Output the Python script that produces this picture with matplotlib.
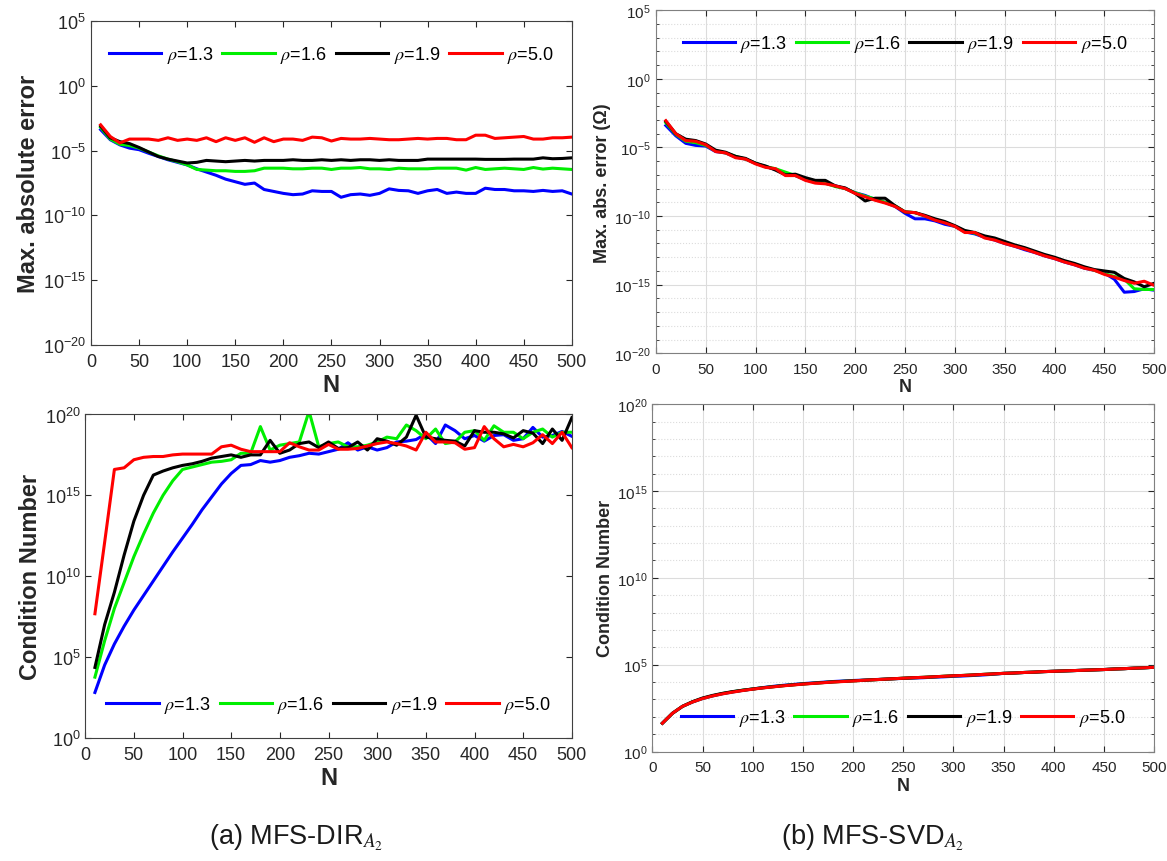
import numpy as np
import matplotlib
matplotlib.use("Agg")
import matplotlib.pyplot as plt

plt.rcParams['font.family'] = ['Liberation Sans', 'DejaVu Sans']
plt.rcParams['mathtext.fontset'] = 'stix'

# DATOS (valores em log10)
N = list(range(10, 501, 10))
rhos = ['1.3', '1.6', '1.9', '5.0']
cores = ['#0000ff', '#00ee00', '#000000', '#ff0000']

# (a) MFS-DIR - erro máximo absoluto
err_dir_13 = [-3.37, -4.15, -4.55, -4.8, -4.92, -5.2, -5.45, -5.7, -5.9, -6.1,
              -6.4, -6.65, -6.9, -7.2, -7.4, -7.6, -7.5, -8.0, -8.15, -8.3,
              -8.4, -8.35, -8.1, -8.15, -8.15, -8.6, -8.4, -8.35, -8.45, -8.3,
              -7.95, -8.07, -8.1, -8.3, -8.1, -8.0, -8.3, -8.2, -8.3, -8.3,
              -7.9, -8.0, -8.0, -8.1, -8.1, -8.15, -8.07, -8.15, -8.1, -8.35]
err_dir_16 = [-3.2, -4.1, -4.5, -4.6, -4.8, -5.1, -5.4, -5.65, -5.85, -6.1,
              -6.45, -6.5, -6.55, -6.55, -6.6, -6.6, -6.55, -6.35, -6.35, -6.35,
              -6.4, -6.4, -6.35, -6.35, -6.45, -6.35, -6.35, -6.3, -6.4, -6.4,
              -6.45, -6.35, -6.4, -6.4, -6.4, -6.35, -6.35, -6.35, -6.5, -6.3,
              -6.45, -6.4, -6.35, -6.4, -6.45, -6.3, -6.42, -6.35, -6.4, -6.45]
err_dir_19 = [-3.1, -4.0, -4.3, -4.45, -4.75, -5.1, -5.45, -5.65, -5.8, -5.95,
              -5.9, -5.75, -5.8, -5.85, -5.8, -5.75, -5.8, -5.75, -5.75, -5.75,
              -5.7, -5.75, -5.75, -5.7, -5.75, -5.7, -5.75, -5.7, -5.7, -5.75,
              -5.7, -5.75, -5.75, -5.75, -5.65, -5.65, -5.65, -5.65, -5.65, -5.65,
              -5.67, -5.67, -5.67, -5.65, -5.65, -5.65, -5.55, -5.62, -5.6, -5.55]
err_dir_50 = [-3.0, -3.9, -4.4, -4.1, -4.1, -4.1, -4.2, -4.0, -4.2, -4.1,
              -4.2, -4.0, -4.3, -4.0, -4.2, -4.0, -4.35, -4.0, -4.3, -4.1,
              -4.1, -4.2, -3.95, -4.0, -4.25, -4.05, -4.1, -4.1, -4.05, -4.1,
              -4.15, -4.15, -4.1, -4.05, -4.1, -4.05, -4.05, -4.15, -4.15, -3.8,
              -3.8, -4.05, -4.0, -3.95, -3.9, -4.1, -4.1, -4.0, -4.0, -3.95]

# (a) MFS-DIR - número de condição
cond_dir_13 = [2.8, 4.5, 5.8, 6.9, 7.9, 8.8, 9.7, 10.6, 11.5, 12.35,
               13.2, 14.1, 14.9, 15.7, 16.35, 16.85, 16.9, 17.15, 17.05, 17.15,
               17.35, 17.45, 17.6, 17.55, 17.7, 17.85, 18.25, 17.8, 18.0, 17.8,
               17.95, 18.3, 18.35, 18.45, 18.8, 18.2, 19.35, 19.0, 18.5, 18.7,
               18.35, 18.7, 18.75, 18.4, 18.5, 19.2, 18.6, 18.7, 18.95, 18.65]
cond_dir_16 = [3.75, 6.0, 8.0, 9.6, 11.2, 12.6, 13.9, 15.0, 15.9, 16.6,
               16.75, 16.9, 17.05, 17.1, 17.2, 17.6, 17.6, 19.25, 17.8, 18.1,
               18.2, 18.3, 20.2, 18.0, 18.2, 18.3, 18.0, 18.0, 18.1, 18.3,
               18.6, 18.5, 19.35, 19.0, 18.5, 19.1, 18.2, 18.3, 18.9, 19.0,
               18.4, 19.3, 18.9, 18.9, 18.5, 18.9, 19.1, 18.6, 18.9, 18.9]
cond_dir_19 = [4.35, 7.0, 9.0, 11.3, 13.4, 15.0, 16.25, 16.5, 16.7, 16.85,
               16.95, 17.1, 17.3, 17.4, 17.5, 17.35, 17.5, 17.5, 18.4, 17.6,
               17.8, 18.2, 18.3, 17.95, 18.3, 17.9, 17.95, 18.3, 17.8, 18.5,
               18.35, 18.1, 18.6, 19.95, 18.6, 18.5, 18.4, 18.35, 18.05, 19.0,
               18.9, 18.9, 18.8, 18.55, 19.0, 18.85, 18.2, 19.1, 18.4, 19.8]
cond_dir_50 = [7.67, 12.1, 16.6, 16.7, 17.2, 17.35, 17.4, 17.4, 17.5, 17.55,
               17.55, 17.55, 17.55, 18.0, 18.1, 17.85, 17.7, 17.7, 17.7, 17.7,
               18.25, 18.0, 17.8, 17.8, 18.15, 17.85, 17.85, 17.9, 18.05, 18.2,
               18.3, 18.2, 18.05, 17.8, 18.9, 18.3, 18.3, 18.25, 17.85, 17.95,
               19.25, 18.5, 18.0, 18.15, 18.0, 18.25, 18.75, 18.2, 18.9, 17.95]

# (b) MFS-SVD - erro máximo absoluto
err_svd_13 = [-3.4, -4.15, -4.7, -4.85, -4.9, -5.3, -5.4, -5.7, -5.85, -6.15,
              -6.4, -6.6, -6.9, -7.05, -7.35, -7.55, -7.6, -7.8, -8.0, -8.3,
              -8.5, -8.8, -9.0, -9.3, -9.8, -10.2, -10.2, -10.35, -10.6, -10.75,
              -11.15, -11.3, -11.55, -11.75, -12.0, -12.2, -12.45, -12.65, -12.9, -13.1,
              -13.35, -13.55, -13.8, -13.95, -14.15, -14.6, -15.55, -15.5, -15.3, -15.4]
err_svd_16 = [-3.2, -4.05, -4.55, -4.65, -4.85, -5.25, -5.4, -5.65, -5.85, -6.15,
              -6.4, -6.55, -6.8, -7.05, -7.3, -7.5, -7.6, -7.85, -8.0, -8.3,
              -8.55, -8.75, -9.0, -9.25, -9.7, -9.75, -10.0, -10.25, -10.45, -10.75,
              -11.1, -11.25, -11.5, -11.7, -11.95, -12.15, -12.35, -12.6, -12.85, -13.05,
              -13.3, -13.5, -13.75, -13.95, -14.2, -14.4, -14.6, -15.3, -15.35, -15.35]
err_svd_19 = [-3.1, -4.0, -4.4, -4.5, -4.75, -5.2, -5.35, -5.65, -5.8, -6.15,
              -6.35, -6.65, -7.0, -6.95, -7.2, -7.4, -7.4, -7.8, -7.95, -8.35,
              -8.9, -8.7, -8.7, -9.25, -9.7, -9.75, -9.95, -10.2, -10.4, -10.7,
              -11.05, -11.2, -11.45, -11.6, -11.85, -12.1, -12.3, -12.55, -12.8, -13.0,
              -13.25, -13.45, -13.7, -13.9, -14.0, -14.1, -14.55, -14.8, -15.15, -14.9]
err_svd_50 = [-3.05, -4.0, -4.5, -4.55, -4.8, -5.3, -5.4, -5.75, -5.85, -6.2,
              -6.45, -6.55, -7.05, -7.05, -7.4, -7.6, -7.65, -7.8, -8.0, -8.35,
              -8.6, -8.85, -9.05, -9.3, -9.7, -9.75, -10.0, -10.3, -10.5, -10.75,
              -11.2, -11.2, -11.6, -11.75, -12.0, -12.2, -12.4, -12.65, -12.9, -13.1,
              -13.35, -13.55, -13.8, -13.95, -14.25, -14.45, -14.7, -14.9, -14.75, -15.05]

# (b) MFS-SVD - número de condição
cond_svd_13 = [1.63, 2.2, 2.6, 2.85, 3.05, 3.2, 3.33, 3.43, 3.52, 3.6,
               3.68, 3.75, 3.81, 3.86, 3.91, 3.95, 3.99, 4.03, 4.06, 4.09,
               4.11, 4.14, 4.16, 4.19, 4.21, 4.23, 4.25, 4.28, 4.3, 4.33,
               4.35, 4.38, 4.41, 4.45, 4.5, 4.52, 4.55, 4.57, 4.6, 4.62,
               4.64, 4.66, 4.68, 4.7, 4.72, 4.75, 4.77, 4.8, 4.82, 4.85]
cond_svd_16 = [1.63, 2.2, 2.6, 2.86, 3.06, 3.21, 3.34, 3.44, 3.53, 3.6,
               3.67, 3.73, 3.79, 3.84, 3.89, 3.93, 3.97, 4.01, 4.04, 4.07,
               4.1, 4.13, 4.16, 4.19, 4.22, 4.25, 4.27, 4.3, 4.33, 4.36,
               4.38, 4.41, 4.44, 4.47, 4.5, 4.52, 4.55, 4.57, 4.6, 4.62,
               4.64, 4.66, 4.68, 4.7, 4.72, 4.75, 4.77, 4.8, 4.82, 4.85]
cond_svd_19 = [1.63, 2.2, 2.6, 2.87, 3.08, 3.23, 3.35, 3.45, 3.53, 3.6,
               3.67, 3.73, 3.79, 3.84, 3.89, 3.93, 3.97, 4.01, 4.04, 4.07,
               4.1, 4.13, 4.16, 4.19, 4.22, 4.25, 4.27, 4.3, 4.33, 4.36,
               4.38, 4.41, 4.44, 4.47, 4.5, 4.52, 4.55, 4.57, 4.6, 4.62,
               4.64, 4.66, 4.68, 4.7, 4.72, 4.75, 4.77, 4.8, 4.82, 4.85]
cond_svd_50 = [1.63, 2.2, 2.6, 2.85, 3.05, 3.2, 3.32, 3.42, 3.51, 3.59,
               3.66, 3.72, 3.78, 3.83, 3.88, 3.92, 3.96, 4.0, 4.03, 4.06,
               4.1, 4.13, 4.16, 4.19, 4.22, 4.25, 4.27, 4.3, 4.33, 4.36,
               4.38, 4.41, 4.44, 4.47, 4.5, 4.52, 4.55, 4.57, 4.6, 4.62,
               4.64, 4.66, 4.68, 4.7, 4.72, 4.75, 4.77, 4.8, 4.82, 4.85]

paineis = [
    # posição, séries, ylabel, ylim (log10), grade, legenda
    ([0.078, 0.599, 0.412, 0.375], [err_dir_13, err_dir_16, err_dir_19, err_dir_50],
     'Max. absolute error', (-20, 5), False, 'upper'),
    ([0.562, 0.589, 0.427, 0.398], [err_svd_13, err_svd_16, err_svd_19, err_svd_50],
     'Max. abs. error (\u03a9)', (-20, 5), True, 'upper'),
    ([0.073, 0.143, 0.417, 0.375], [cond_dir_13, cond_dir_16, cond_dir_19, cond_dir_50],
     'Condition Number', (0, 20), False, 'lower'),
    ([0.559, 0.127, 0.430, 0.403], [cond_svd_13, cond_svd_16, cond_svd_19, cond_svd_50],
     'Condition Number', (0, 20), True, 'lower'),
]

fig = plt.figure(figsize=(11.67, 8.62), dpi=100)

for pos, series, ylabel, (ymin, ymax), grade, leg in paineis:
    ax = fig.add_axes(pos)
    for s, cor, rho in zip(series, cores, rhos):
        ax.plot(N, [10.0 ** v for v in s], color=cor, lw=2.2, label=r'$\rho$=' + rho)
    ax.set_yscale('log')
    ax.set_xlim(0, 500)
    ax.set_ylim(10.0 ** ymin, 10.0 ** ymax)
    ax.set_xticks(range(0, 501, 50))
    ax.set_yticks([10.0 ** e for e in range(ymin, ymax + 1, 5)])
    ax.set_yticklabels([r'$\mathregular{10^{%d}}$' % e for e in range(ymin, ymax + 1, 5)])

    if grade:
        fs_tick, fs_lab, fs_leg, cor_eixo = 11, 13, 13, '#808080'
        ax.set_yticks([10.0 ** e for e in range(ymin, ymax + 1)], minor=True)
        ax.yaxis.set_minor_formatter(matplotlib.ticker.NullFormatter())
        ax.grid(True, which='major', color='#dcdcdc', lw=0.8)
        ax.grid(True, which='minor', axis='y', color='#dcdcdc', lw=0.8, ls=':')
        ax.set_axisbelow(True)
    else:
        fs_tick, fs_lab, fs_leg, cor_eixo = 13, 17, 13, '#404040'
        ax.yaxis.set_minor_locator(matplotlib.ticker.NullLocator())

    for sp in ax.spines.values():
        sp.set_color(cor_eixo)
    ax.tick_params(which='both', direction='in', top=True, right=True,
                   colors='#262626', labelsize=fs_tick, length=4)
    ax.tick_params(which='minor', length=2.5)
    ax.tick_params(axis='x', pad=6)
    ax.set_xlabel('N', fontsize=fs_lab, fontweight='bold', color='#262626', labelpad=2)
    ax.set_ylabel(ylabel, fontsize=fs_lab, fontweight='bold', color='#262626', labelpad=2)

    if leg == 'upper':
        ax.legend(loc='upper center', bbox_to_anchor=(0.5, 0.98), ncol=4, frameon=False,
                  fontsize=fs_leg, handlelength=2.9, handletextpad=0.3, columnspacing=0.5)
    else:
        ax.legend(loc='lower center', bbox_to_anchor=(0.5, 0.02), ncol=4, frameon=False,
                  fontsize=fs_leg, handlelength=2.9, handletextpad=0.3, columnspacing=0.5)

fig.text(296 / 1167, 1 - 838 / 862, r'(a) MFS-DIR$_{A_2}$', fontsize=19.5,
         ha='center', va='center', color='#1a1a1a')
fig.text(873 / 1167, 1 - 838 / 862, r'(b) MFS-SVD$_{A_2}$', fontsize=19.5,
         ha='center', va='center', color='#1a1a1a')

fig.savefig('out.png', dpi=100)
